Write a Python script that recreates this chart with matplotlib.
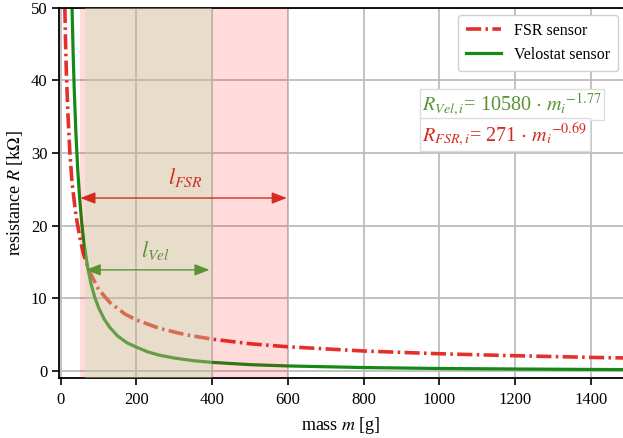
import numpy as np
import matplotlib
matplotlib.use("Agg")
import matplotlib.pyplot as plt

plt.rcParams['font.family'] = ['Liberation Serif', 'DejaVu Serif']
plt.rcParams['mathtext.fontset'] = 'stix'

# FSR curve (mass g, resistance kOhm)
fsr_m = [11, 12.5, 15, 19, 24, 30, 40, 50, 60, 75, 100, 130, 170, 200, 260,
         330, 400, 500, 600, 800, 1000, 1200, 1400, 1490]
fsr_R = [50, 46, 41, 35.5, 30.2, 25.9, 21.5, 18.5, 16.1, 13.8, 11.2, 9.4, 7.8,
         7.0, 5.85, 4.96, 4.35, 3.72, 3.3, 2.72, 2.34, 2.07, 1.84, 1.76]

# Velostat curve
vel_m = [30, 33, 36, 40, 45, 50, 55, 60, 70, 80, 90, 100, 115, 130, 150, 175,
         200, 230, 260, 300, 350, 400, 500, 600, 800, 1000, 1200, 1400, 1490]
vel_R = [50, 43.5, 38.4, 32.9, 27.7, 23.8, 20.7, 18.2, 14.6, 12.0, 10.1, 8.7,
         7.1, 5.95, 4.8, 3.85, 3.25, 2.6, 2.15, 1.75, 1.39, 1.15, 0.84, 0.66,
         0.44, 0.31, 0.24, 0.18, 0.16]

# measuring ranges
fsr_range = (52, 600)
vel_range = (65, 400)

fig = plt.figure(figsize=(6.23, 4.38), dpi=100)
ax = fig.add_axes([0.095, 0.137, 0.905, 0.845])

ax.plot(fsr_m, fsr_R, color='#e3302a', lw=2.6, ls=(0, (4.2, 1.2, 0.7, 1.2)),
        label='FSR sensor', zorder=2)
ax.plot(vel_m, vel_R, color='#138a14', lw=2.3, label='Velostat sensor', zorder=2)

ax.axvspan(*fsr_range, color=(1.0, 0.0, 0.0), alpha=0.14, lw=0, zorder=3)
ax.axvspan(*vel_range, color=(193/255, 226/255, 174/255), alpha=0.36, lw=0, zorder=3)

ax.annotate('', xy=(fsr_range[0], 23.8), xytext=(fsr_range[1] - 3, 23.8),
            arrowprops=dict(arrowstyle='<|-|>,head_length=0.9,head_width=0.35',
                            color='#d42a22', lw=1.0, shrinkA=0, shrinkB=0), zorder=4)
ax.annotate('', xy=(vel_range[0] + 1, 13.9), xytext=(vel_range[1] - 7, 13.9),
            arrowprops=dict(arrowstyle='<|-|>,head_length=0.9,head_width=0.35',
                            color='#5a9336', lw=1.0, shrinkA=0, shrinkB=0), zorder=4)
ax.text(328, 25.0, r'$l_{FSR}$', color='#d42a22', fontsize=16, ha='center',
        va='bottom', zorder=4)
ax.text(250, 15.0, r'$l_{Vel}$', color='#5a9336', fontsize=16, ha='center',
        va='bottom', zorder=4)

ax.set_xlim(-4, 1485)
ax.set_ylim(-1, 50)
ax.set_xticks(np.arange(0, 1401, 200))
ax.set_yticks(np.arange(0, 51, 10))
ax.grid(True, color='#bdbdbd', lw=1.3, zorder=1)
ax.set_axisbelow(True)
ax.spines['right'].set_visible(False)
for s in ['left', 'bottom', 'top']:
    ax.spines[s].set_linewidth(1.3)
ax.tick_params(labelsize=12, length=5, width=1.2, direction='out')
ax.tick_params(axis='x', pad=5)

ax.set_xlabel(r'mass $m$ [g]', fontsize=13, labelpad=5)
ax.set_ylabel(r'resistance $R$ [k$\Omega$]', fontsize=13, labelpad=4)

leg = ax.legend(loc='upper right', bbox_to_anchor=(0.997, 0.99), fontsize=11.5,
                framealpha=1, edgecolor='#d0d0d0', handlelength=2.2,
                borderpad=0.5, borderaxespad=0.2, fancybox=True)
leg.set_zorder(5)

box = dict(boxstyle='square,pad=0.12', fc='white', ec='#dddddd', lw=1)
ax.text(0.644, 0.775, r'$R_{Vel,i}$= 10580 $\cdot$ $m_i$$^{-1.77}$',
        transform=ax.transAxes, color='#5a9336', fontsize=14.5, ha='left',
        va='top', bbox=box, zorder=5)
ax.text(0.644, 0.695, r'$R_{FSR,i}$= 271 $\cdot$ $m_i$$^{-0.69}$',
        transform=ax.transAxes, color='#d42a22', fontsize=14.5, ha='left',
        va='top', bbox=box, zorder=5)

fig.savefig('out.png', dpi=100)
